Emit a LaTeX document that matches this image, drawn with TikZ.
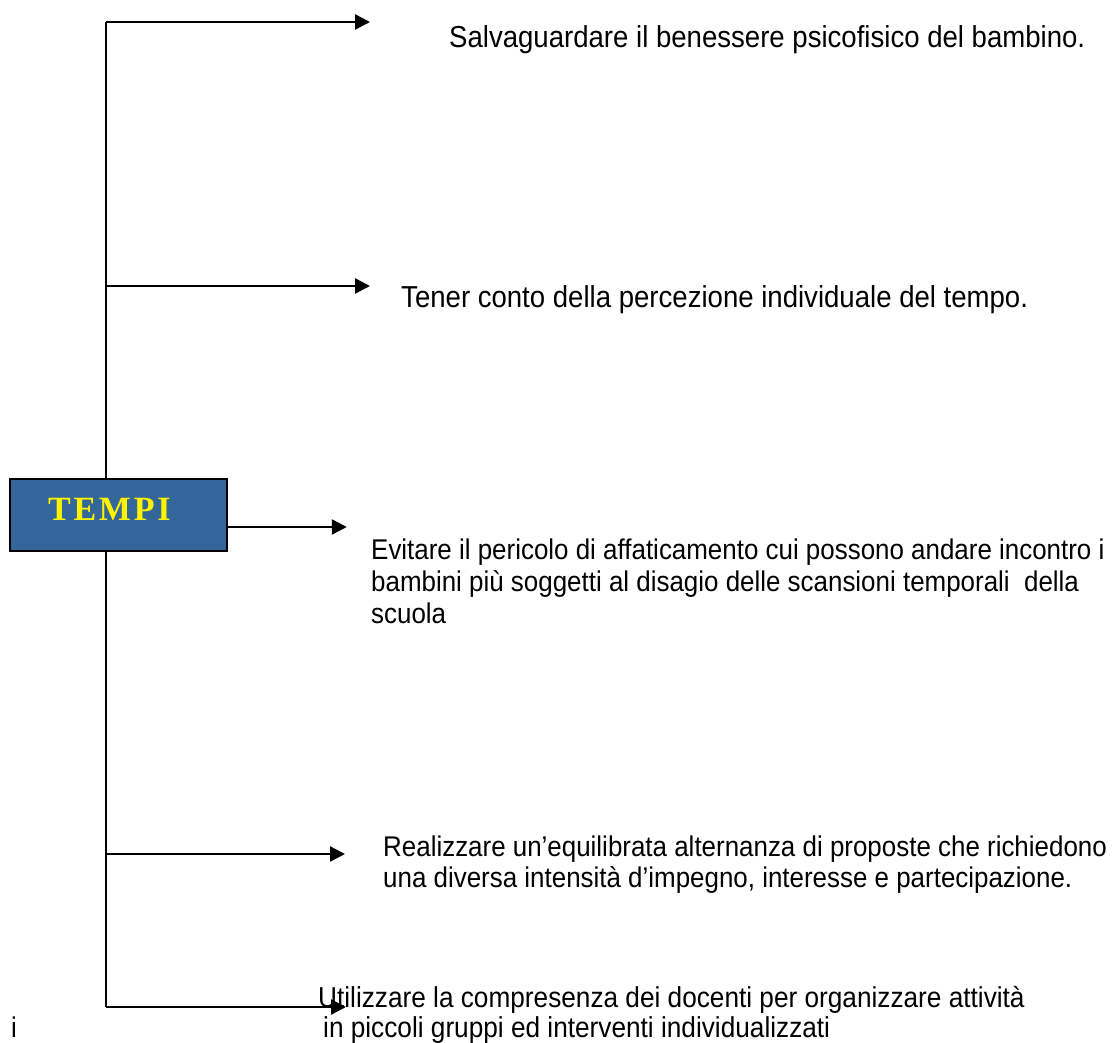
\documentclass[tikz,border=0pt]{standalone}
\usepackage{fontspec}
\setmainfont{Liberation Sans}[FakeStretch=0.91]
\newfontfamily\boxfont{Liberation Serif}[LetterSpace=8]
\usepackage[dvipsnames]{xcolor}
\definecolor{tempiblue}{RGB}{51,102,153}
\usetikzlibrary{
  arrows.meta,
  positioning
}
\begin{document}
\begin{tikzpicture}[
  x=1pt, y=-1pt,
  line width=2.4pt,
  every node/.style = {inner sep=0pt, align=left,
    font=\fontsize{30.3}{37}\selectfont}]
    \tikzstyle{goal}=[anchor=base west]
    \tikzstyle{small}=[font=\fontsize{28.5}{32}\selectfont]
    \tikzstyle{branch}=[-{Triangle[length=15pt,width=15pt]}]
    \tikzstyle{tempibox}=[shape=rectangle, draw, line width=1.6pt,
      fill=tempiblue, minimum width=217pt, minimum height=72pt]
  \useasboundingbox (0,0) rectangle (1117,1043);
  \coordinate (top) at (106,22);
  \coordinate (mid) at (106,286);
  \coordinate (low) at (106,854);
  \coordinate (bottom) at (106,1007);
  \draw (top) -- (bottom);
  \node (tempi) [tempibox] at (118.5,515) {};
  \node (label) [goal, text=yellow,
    font=\boxfont\bfseries\fontsize{34}{34}\selectfont] at (47,520) {TEMPI};
  \node (g1) [goal] at (448,48) {Salvaguardare il benessere psicofisico del bambino.};
  \node (g2) [goal] at (400,307) {Tener conto della percezione individuale del tempo.};
  % the base of a multi-line node is its last line
  \node (g3) [goal, small] at (370,623) {Evitare il pericolo di affaticamento cui possono andare incontro i\\
    bambini più soggetti al disagio delle scansioni temporali\ \ della\\
    scuola};
  \node (g4) [goal, font=\fontsize{28.5}{31}\selectfont] at (382,887)
    {Realizzare un’equilibrata alternanza di proposte che richiedono\\
    una diversa intensità d’impegno, interesse e partecipazione.};
  \node (g5) [goal, font=\fontsize{28.8}{30}\selectfont] at (317,1037)
    {Utilizzare la compresenza dei docenti per organizzare attività\\
    \hspace{5pt}in piccoli gruppi ed interventi individualizzati};
  \node (side) [goal, small] at (10,1037) {i};
  \draw[branch] (top) -- (370,22);
  \draw[branch] (mid) -- (370,286);
  \draw[branch] ([yshift=-12pt]tempi.east) -- ++(119,0);
  \draw[branch] (low) -- (345,854);
  \draw[branch] (bottom) -- (346,1007);
\end{tikzpicture}
\end{document}
